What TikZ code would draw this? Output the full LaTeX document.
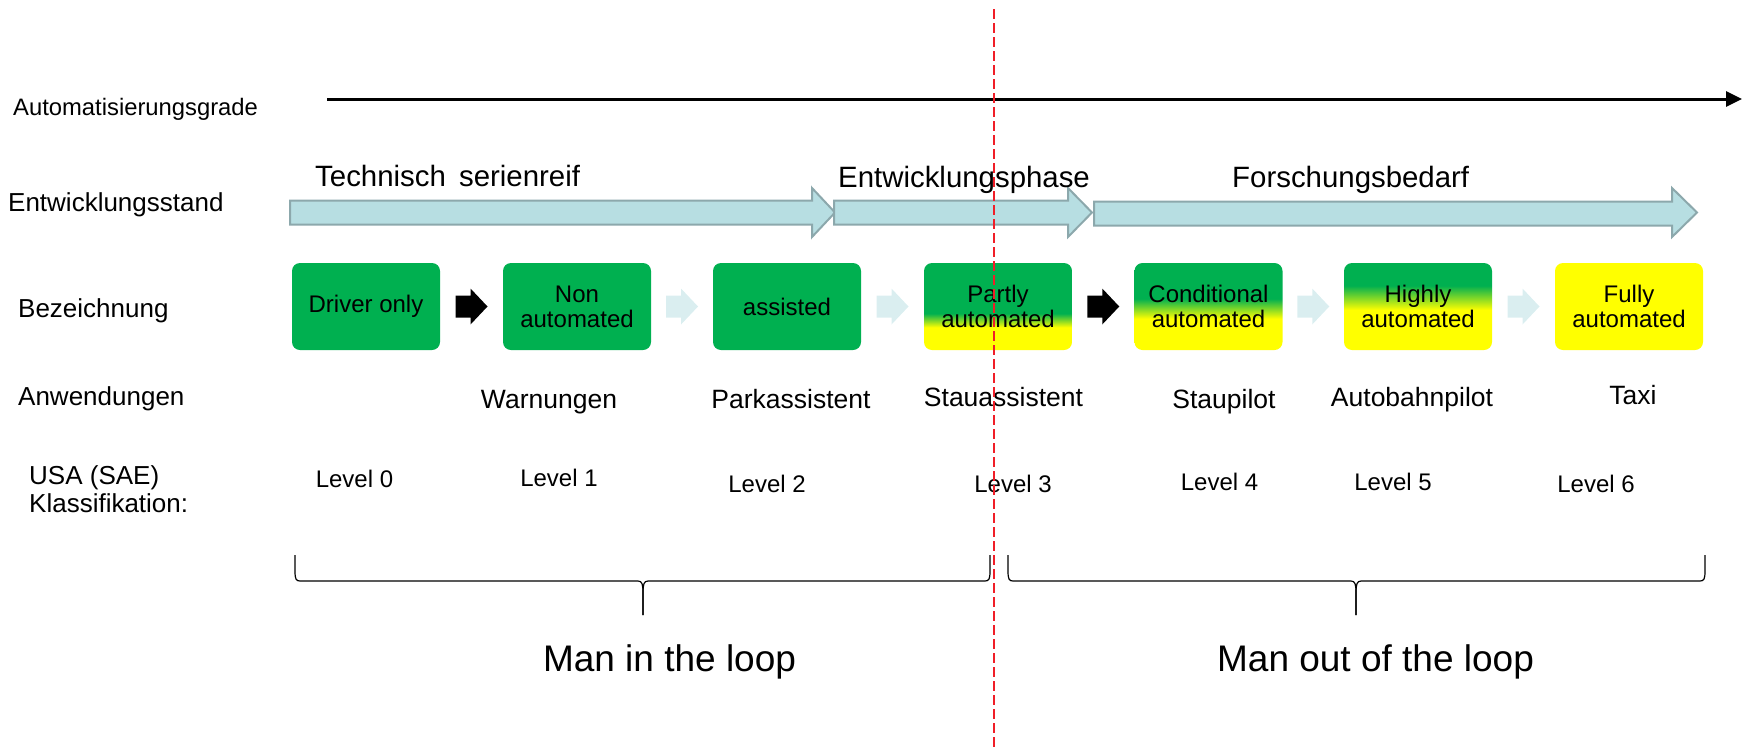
\documentclass[tikz,border=0pt]{standalone}
\usepackage{fontspec}
\setmainfont{Liberation Sans}
\usetikzlibrary{arrows.meta,calc}
\definecolor{pgreen}{RGB}{0,176,80}
\definecolor{pyellow}{RGB}{255,255,0}
\definecolor{bafill}{RGB}{183,222,226}
\definecolor{badraw}{RGB}{140,168,172}
\definecolor{palearrow}{RGB}{218,238,240}
\definecolor{dashred}{RGB}{240,30,40}
\pgfdeclareverticalshading{shpartly}{100bp}{color(0bp)=(pyellow); color(38bp)=(pyellow); color(46bp)=(pgreen); color(100bp)=(pgreen)}
\pgfdeclareverticalshading{shcond}{100bp}{color(0bp)=(pyellow); color(43bp)=(pyellow); color(54.5bp)=(pgreen); color(100bp)=(pgreen)}
\pgfdeclareverticalshading{shhigh}{100bp}{color(0bp)=(pyellow); color(48bp)=(pyellow); color(62bp)=(pgreen); color(100bp)=(pgreen)}
\newcommand\lblfont{\fontsize{26}{30}\selectfont}
\newcommand\autofont{\fontsize{23.8}{28}\selectfont}
\newcommand\rowfont{\fontsize{26.5}{30}\selectfont}
\newcommand\hdrfont{\fontsize{29.4}{33}\selectfont}
\newcommand\boxfont{\fontsize{24}{25}\selectfont}
\newcommand\levfont{\fontsize{24}{28}\selectfont}
\newcommand\bigfont{\fontsize{37}{42}\selectfont}
\tikzset{
  lbl/.style={anchor=base west, inner sep=0pt, font=\lblfont},
  hdr/.style={anchor=base west, inner sep=0pt, font=\hdrfont},
  rowtxt/.style={anchor=base, inner sep=0pt, font=\rowfont},
  levtxt/.style={anchor=base, inner sep=0pt, font=\levfont},
  bigtxt/.style={anchor=base, inner sep=0pt, font=\bigfont},
  stagebox/.style={rounded corners=8pt, minimum width=148pt, minimum height=87pt, inner sep=0pt, align=center, font=\boxfont},
  bigarrow/.style={fill=bafill, draw=badraw, line width=2pt, line join=miter},
  bracestyle/.style={line width=1.2pt, black},
  smallarr/.pic={\fill[#1] (-16,-11) -- (-1,-11) -- (-1,-18) -- (16,0) -- (-1,18) -- (-1,11) -- (-16,11) -- cycle;}
}
\begin{document}
\begin{tikzpicture}[x=1pt,y=-1pt]
\useasboundingbox (0,0) rectangle (1748,750);
% left labels
\node[lbl, font=\autofont] (lauto) at (13,115) {Automatisierungsgrade};
\node[lbl] (lentw) at (8,211) {Entwicklungsstand};
\node[lbl] (lbez) at (18,317) {Bezeichnung};
\node[lbl] (lanw) at (18,405) {Anwendungen};
\node[lbl] (lusa) at (29,484) {USA (SAE)};
\node[lbl] (lklass) at (29,512) {Klassifikation:};
% axis
\coordinate (axs) at (327,99);
\coordinate (axe) at (1742,99);
\draw[line width=3pt, -{Triangle[length=16pt,width=15pt]}] (axs) -- (axe);
% big arrows
\draw[bigarrow] (290,200.5) -- (812,200.5) -- (812,188) -- (835,212.5) -- (812,237) -- (812,224.5) -- (290,224.5) -- cycle;
\draw[bigarrow] (834,200.5) -- (1068,200.5) -- (1068,188) -- (1092,212.5) -- (1068,237) -- (1068,224.5) -- (834,224.5) -- cycle;
\draw[bigarrow] (1094,201.5) -- (1672,201.5) -- (1672,188) -- (1697,212.5) -- (1672,237) -- (1672,225.5) -- (1094,225.5) -- cycle;
\node[hdr] (htech) at (315,186) {Technisch\hspace{5pt} serienreif};
\node[hdr] (hentw) at (838,187) {Entwicklungsphase};
\node[hdr] (hfor) at (1232,187) {Forschungsbedarf};
% boxes
\node[stagebox, fill=pgreen] (b1) at (366,306.5) {Driver only};
\node[stagebox, fill=pgreen] (b2) at (577,306.5) {Non\\automated};
\node[stagebox, fill=pgreen] (b3) at (787,306.5) {assisted};
\node[stagebox, shade, shading=shpartly] (b4) at (998,306.5) {Partly\\automated};
\node[stagebox, shade, shading=shcond] (b5) at (1208.5,306.5) {Conditional\\automated};
\node[stagebox, shade, shading=shhigh] (b6) at (1418,306.5) {Highly\\automated};
\node[stagebox, fill=pyellow] (b7) at (1629,306.5) {Fully\\automated};
% small arrows
\pic at ($(b1.east)!0.5!(b2.west)$) {smallarr=black};
\pic at ($(b2.east)!0.5!(b3.west)$) {smallarr=palearrow};
\pic at ($(b3.east)!0.5!(b4.west)$) {smallarr=palearrow};
\pic at ($(b4.east)!0.5!(b5.west)$) {smallarr=black};
\pic at ($(b5.east)!0.5!(b6.west)$) {smallarr=palearrow};
\pic at ($(b6.east)!0.5!(b7.west)$) {smallarr=palearrow};
% applications
\node[rowtxt] (a2) at (549,408) {Warnungen};
\node[rowtxt] (a3) at (791,408) {Parkassistent};
\node[rowtxt] (a4) at (1003.5,406) {Stauassistent};
\node[rowtxt] (a5) at (1224,408) {Staupilot};
\node[rowtxt] (a6) at (1412,406) {Autobahnpilot};
\node[rowtxt] (a7) at (1633,404) {Taxi};
% levels
\node[levtxt] (l0) at (354.5,487) {Level 0};
\node[levtxt] (l1) at (559,486) {Level 1};
\node[levtxt] (l2) at (767,492) {Level 2};
\node[levtxt] (l3) at (1013,492) {Level 3};
\node[levtxt] (l4) at (1219.5,490) {Level 4};
\node[levtxt] (l5) at (1393,490) {Level 5};
\node[levtxt] (l6) at (1596,492) {Level 6};
% braces
\draw[bracestyle] (295,555) -- (295,571) .. controls (295,579) and (296,581) .. (300,581) -- (638,581) .. controls (642,581) and (643,584) .. (643,593) -- (643,615);
\draw[bracestyle] (643,615) -- (643,593) .. controls (643,584) and (644,581) .. (648,581) -- (985,581) .. controls (989,581) and (990,579) .. (990,571) -- (990,555);
\draw[bracestyle] (1008,555) -- (1008,571) .. controls (1008,579) and (1009,581) .. (1013,581) -- (1351,581) .. controls (1355,581) and (1356,584) .. (1356,593) -- (1356,615);
\draw[bracestyle] (1356,615) -- (1356,593) .. controls (1356,584) and (1357,581) .. (1361,581) -- (1700,581) .. controls (1704,581) and (1705,579) .. (1705,571) -- (1705,555);
\node[bigtxt] (min) at (669.5,671) {Man in the loop};
\node[bigtxt] (mout) at (1375.5,671) {Man out of the loop};
% red dashed divider
\coordinate (rtop) at (994,9);
\coordinate (rbot) at (994,750);
\draw[dashred, line width=1.5pt, dash pattern=on 10pt off 4pt] (rtop) -- (rbot);
\end{tikzpicture}
\end{document}
